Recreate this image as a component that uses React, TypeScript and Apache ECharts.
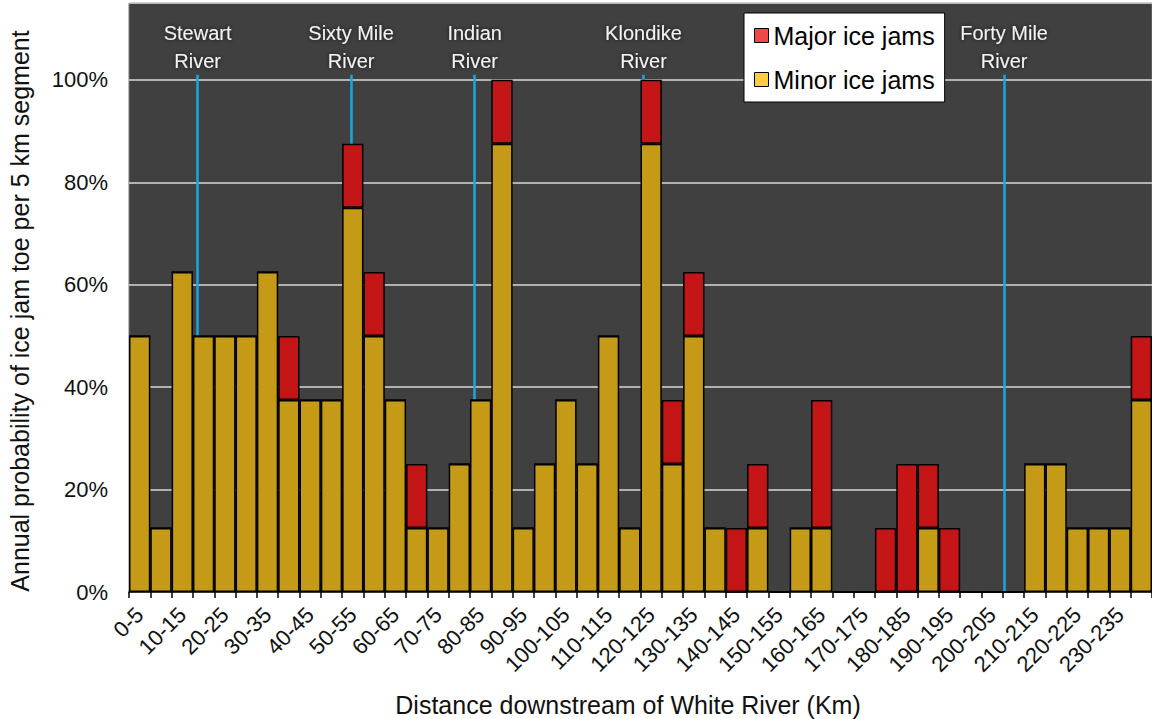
import React, { useEffect, useRef } from 'react'
import * as echarts from 'echarts'

// 5 km segments downstream of White River
const categories = [
  '0-5', '5-10', '10-15', '15-20', '20-25', '25-30', '30-35', '35-40',
  '40-45', '45-50', '50-55', '55-60', '60-65', '65-70', '70-75', '75-80',
  '80-85', '85-90', '90-95', '95-100', '100-105', '105-110', '110-115', '115-120',
  '120-125', '125-130', '130-135', '135-140', '140-145', '145-150', '150-155', '155-160',
  '160-165', '165-170', '170-175', '175-180', '180-185', '185-190', '190-195', '195-200',
  '200-205', '205-210', '210-215', '215-220', '220-225', '225-230', '230-235', '235-240'
]

// annual probability in %
const minorJams = [
  50, 12.5, 62.5, 50, 50, 50, 62.5, 37.5, 37.5, 37.5,
  75, 50, 37.5, 12.5, 12.5, 25, 37.5, 87.5, 12.5, 25,
  37.5, 25, 50, 12.5, 87.5, 25, 50, 12.5, 0, 12.5,
  0, 12.5, 12.5, 0, 0, 0, 0, 12.5, 0, 0,
  0, 0, 25, 25, 12.5, 12.5, 12.5, 37.5
]
const majorJams = [
  0, 0, 0, 0, 0, 0, 0, 12.5, 0, 0,
  12.5, 12.5, 0, 12.5, 0, 0, 0, 12.5, 0, 0,
  0, 0, 0, 0, 12.5, 12.5, 12.5, 0, 12.5, 12.5,
  0, 0, 25, 0, 0, 12.5, 25, 12.5, 12.5, 0,
  0, 0, 0, 0, 0, 0, 0, 12.5
]

// tributary confluences (km downstream)
const riverNames = ['Stewart\nRiver', 'Sixty Mile\nRiver', 'Indian\nRiver', 'Klondike\nRiver', 'Forty Mile\nRiver']
const riverKm = [16.1, 52.1, 81.1, 120.7, 205.3]

const yTicks = [0, 20, 40, 60, 80, 100]

const FONT = '"Liberation Sans", Arial, sans-serif'

const App = () => {
  const chartRef = useRef<HTMLDivElement>(null)

  useEffect(() => {
    const chart = echarts.init(chartRef.current!, null, { renderer: 'svg' })

    const riverLines = riverKm.map((km, i) => [
      { name: riverNames[i], coord: [km, 101] },
      { coord: [km, 0] }
    ])

    chart.setOption({
      animation: false,
      textStyle: { fontFamily: FONT },
      grid: {
        left: 129,
        right: -7,
        top: 3,
        bottom: 127,
        show: true,
        backgroundColor: '#404040',
        borderColor: '#777',
        borderWidth: 1
      },
      legend: {
        orient: 'vertical',
        left: 744,
        top: 13,
        padding: 10,
        itemGap: 19,
        itemWidth: 14,
        itemHeight: 14,
        backgroundColor: '#fff',
        borderColor: '#000',
        borderWidth: 1,
        icon: 'rect',
        textStyle: { fontSize: 25, color: '#000', fontFamily: FONT },
        data: [
          { name: 'Major ice jams', itemStyle: { color: '#F04848', borderColor: '#000', borderWidth: 1 } },
          { name: 'Minor ice jams', itemStyle: { color: '#FFCC44', borderColor: '#000', borderWidth: 1 } }
        ]
      },
      xAxis: [
        {
          type: 'category',
          data: categories,
          axisLine: { lineStyle: { color: '#000', width: 1.5 } },
          axisTick: { show: true, interval: 0, length: 6, lineStyle: { color: '#000', width: 1.5 } },
          axisLabel: { interval: 1, rotate: 45, fontSize: 22, color: '#111', margin: 19, fontFamily: FONT },
          splitLine: { show: false }
        },
        {
          type: 'value',
          min: 0,
          max: 240,
          show: false,
          splitLine: { show: false }
        }
      ],
      yAxis: {
        type: 'value',
        min: 0,
        max: 115,
        interval: 20,
        axisLine: { show: false },
        axisTick: { show: false },
        axisLabel: {
          fontSize: 22,
          color: '#111',
          margin: 21,
          fontFamily: FONT,
          formatter: (v: number) => (yTicks.includes(v) ? v + '%' : '')
        },
        splitLine: { lineStyle: { color: '#d8d8d8', width: 1.5 } }
      },
      graphic: [
        {
          type: 'text',
          x: 20,
          y: 311,
          rotation: Math.PI / 2,
          style: {
            text: 'Annual probability of ice jam toe per 5 km segment',
            fontSize: 25,
            fontFamily: FONT,
            fill: '#111',
            align: 'center',
            verticalAlign: 'middle'
          }
        },
        {
          type: 'text',
          x: 628,
          y: 705,
          style: {
            text: 'Distance downstream of White River (Km)',
            fontSize: 25,
            fontFamily: FONT,
            fill: '#111',
            align: 'center',
            verticalAlign: 'middle'
          }
        }
      ],
      series: [
        {
          name: 'rivers',
          type: 'line',
          xAxisIndex: 1,
          yAxisIndex: 0,
          data: [],
          z: 1,
          silent: true,
          markLine: {
            z: 1,
            silent: true,
            symbol: ['none', 'none'],
            lineStyle: { color: '#19A7E0', width: 2.5, type: 'solid' },
            label: {
              show: true,
              position: 'start',
              distance: 0,
              formatter: '{b}',
              fontSize: 20,
              lineHeight: 28,
              color: '#f2f2f2',
              fontFamily: FONT,
              textShadowColor: 'rgba(0,0,0,0.7)',
              textShadowBlur: 4
            },
            emphasis: { disabled: true },
            data: riverLines
          }
        },
        {
          name: 'Minor ice jams',
          type: 'bar',
          stack: 'jams',
          barCategoryGap: 0,
          z: 3,
          itemStyle: { color: '#C59A16', borderColor: '#000', borderWidth: 1.5 },
          data: minorJams
        },
        {
          name: 'Major ice jams',
          type: 'bar',
          stack: 'jams',
          barCategoryGap: 0,
          z: 3,
          itemStyle: { color: '#C41616', borderColor: '#000', borderWidth: 1.5 },
          data: majorJams
        }
      ]
    })

    return () => {
      chart.dispose()
    }
  }, [])

  return (
    <div
      ref={chartRef}
      style={{ position: 'absolute', left: 0, top: 0, width: '1152px', height: '719px', background: '#fff' }}
    ></div>
  )
}

export default App
